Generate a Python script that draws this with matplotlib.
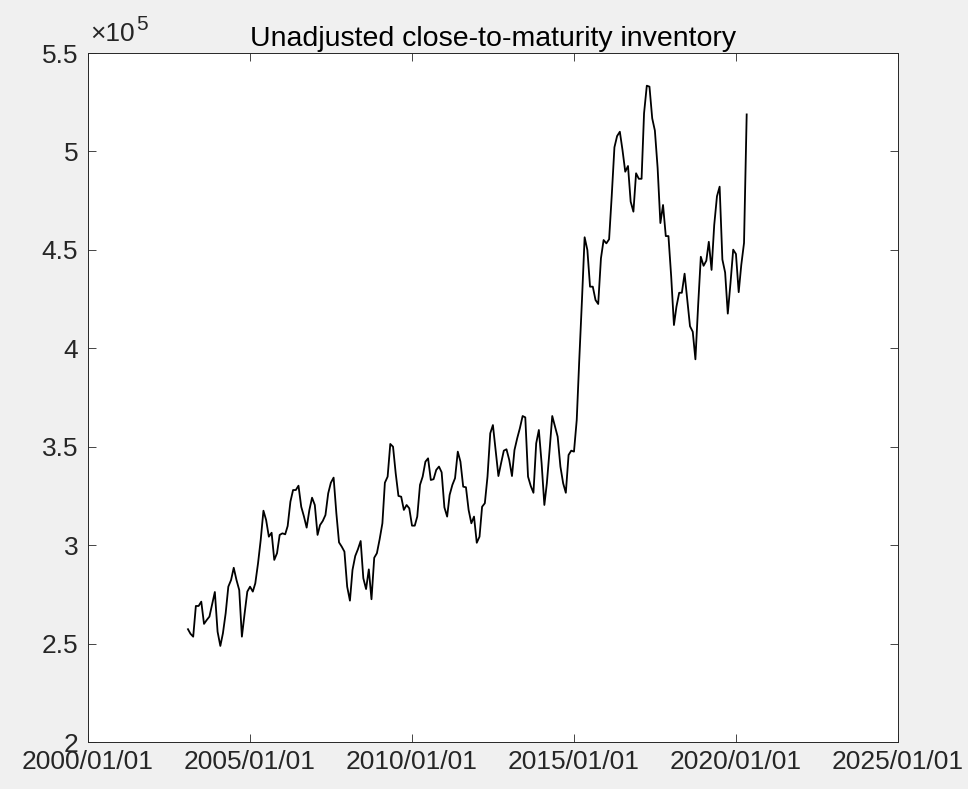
import numpy as np
import pandas as pd
import matplotlib
matplotlib.use("Agg")
import matplotlib.pyplot as plt
import matplotlib.dates as mdates
from matplotlib.ticker import FuncFormatter, FixedLocator

plt.rcParams['font.family'] = ['Liberation Sans', 'DejaVu Sans']

title = "Unadjusted close-to-maturity inventory"
start_month = "2003-02-01"
# values in units of 1e5
values_e5 = [
    2.573, 2.55, 2.535, 2.691, 2.691, 2.713, 2.600, 2.620, 2.637, 2.70,
    2.762, 2.560, 2.488, 2.552, 2.654, 2.789, 2.823, 2.885, 2.823, 2.772,
    2.535, 2.654, 2.764, 2.789, 2.764, 2.806, 2.908, 3.026, 3.175, 3.128,
    3.043, 3.063, 2.925, 2.959, 3.052, 3.060, 3.055, 3.097, 3.221, 3.280,
    3.280, 3.302, 3.195, 3.145, 3.089, 3.179, 3.241, 3.204, 3.052, 3.102,
    # 2007 onwards
    3.123, 3.153, 3.263, 3.317, 3.343, 3.162, 3.014, 2.992, 2.967, 2.789,
    2.718, 2.874, 2.945, 2.979, 3.021, 2.832, 2.777, 2.877, 2.725, 2.936,
    2.959, 3.030, 3.111, 3.317, 3.348, 3.514, 3.500, 3.365, 3.250, 3.246,
    3.179, 3.204, 3.187, 3.099, 3.099, 3.145, 3.306, 3.348, 3.424, 3.441,
    3.331, 3.335, 3.382, 3.399, 3.370, 3.192, 3.145, 3.255, 3.306, 3.340,
    3.475, 3.424, 3.297, 3.294, 3.179, 3.111, 3.145, 3.012, 3.043,
    # 2012 onwards
    3.195, 3.213, 3.348, 3.568, 3.610, 3.483, 3.351, 3.416, 3.480, 3.487,
    3.433, 3.351, 3.483, 3.543, 3.594, 3.656, 3.649, 3.348, 3.300, 3.266,
    3.517, 3.585, 3.416, 3.204, 3.314, 3.483, 3.656, 3.602, 3.551, 3.399,
    3.314, 3.266, 3.458, 3.480, 3.475, 3.636, 3.935, 4.245, 4.564, 4.499,
    4.313, 4.313, 4.245, 4.225, 4.457, 4.550, 4.533, 4.554, 4.770, 5.021,
    5.078, 5.100, 5.007, 4.897, 4.926, 4.745, 4.694, 4.889, 4.861, 4.861,
    5.194, 5.334, 5.329, 5.168, 5.106, 4.916, 4.636, 4.728, 4.570, 4.570,
    4.364, 4.118, 4.211, 4.282, 4.282, 4.379, 4.245, 4.112, 4.084, 3.944,
    4.220, 4.465, 4.419, 4.445, 4.541, 4.398, 4.626, 4.772, 4.821, 4.451,
    4.385, 4.176, 4.334, 4.501, 4.479, 4.285, 4.423, 4.535, 5.188,
]
values = np.array(values_e5) * 1e5
dates = pd.date_range(start_month, periods=len(values), freq="MS")

x_ticks = ["2000-01-01", "2005-01-01", "2010-01-01", "2015-01-01", "2020-01-01", "2025-01-01"]
y_ticks = [2.0e5, 2.5e5, 3.0e5, 3.5e5, 4.0e5, 4.5e5, 5.0e5, 5.5e5]

W, H = 968, 789
fig = plt.figure(figsize=(W / 100, H / 100), dpi=100, facecolor="#f0f0f0")
ax = fig.add_axes([88 / W, 1 - 742 / H, (898 - 88) / W, (742 - 53) / H])
ax.set_facecolor("white")

ax.plot(dates, values, color="black", lw=1.3)

xt = [pd.Timestamp(d) for d in x_ticks]
ax.set_xlim(xt[0], xt[-1])
ax.set_ylim(y_ticks[0], y_ticks[-1])
ax.xaxis.set_major_locator(FixedLocator(mdates.date2num(xt)))
ax.xaxis.set_major_formatter(mdates.DateFormatter("%Y/%m/%d"))
ax.yaxis.set_major_locator(FixedLocator(y_ticks))
ax.yaxis.set_major_formatter(FuncFormatter(lambda v, p: "%g" % (v / 1e5)))

axis_col = "#262626"
for s in ax.spines.values():
    s.set_color(axis_col)
    s.set_linewidth(0.7)
ax.tick_params(direction="in", length=6, width=0.6, colors=axis_col,
               labelsize=19, top=True, right=True)
ax.tick_params(axis="x", pad=6)
ax.tick_params(axis="y", pad=7)

ax.set_title(title, fontsize=20.5, color="black", pad=5)
ax.annotate("\u00d710", xy=(0.0, 1.0), xycoords="axes fraction",
            xytext=(1.5, 5), textcoords="offset points",
            fontsize=19, ha="left", va="bottom", color=axis_col)
ax.annotate("5", xy=(0.0, 1.0), xycoords="axes fraction",
            xytext=(34.5, 14), textcoords="offset points",
            fontsize=15, ha="left", va="bottom", color=axis_col)

fig.savefig("out.png", dpi=100, facecolor=fig.get_facecolor())
